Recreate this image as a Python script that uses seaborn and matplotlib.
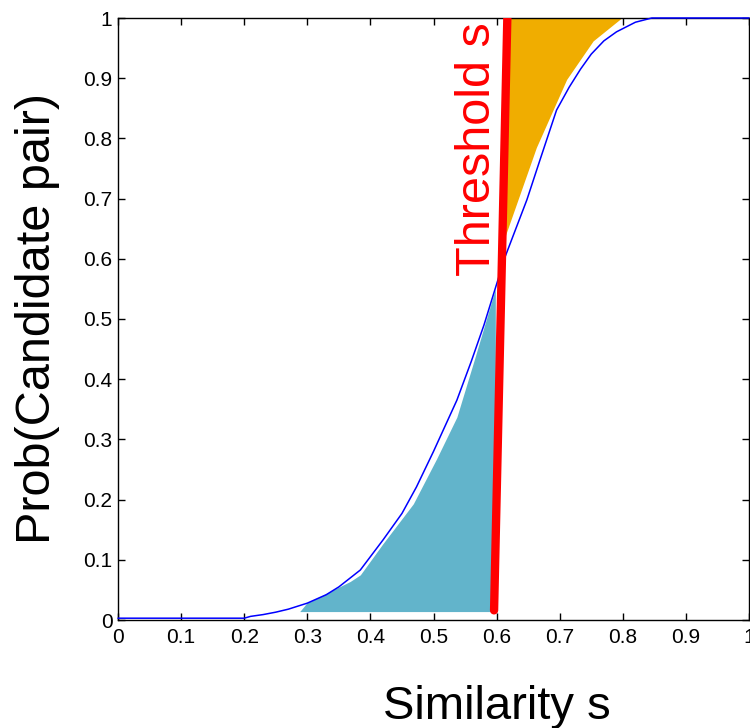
import matplotlib
matplotlib.use("Agg")
import matplotlib.pyplot as plt
import seaborn as sns
import numpy as np
import pandas as pd

# S-curve: probability that a pair becomes a candidate
sim = [0, 0.1, 0.2, 0.21, 0.23, 0.25, 0.27, 0.3, 0.33, 0.35, 0.384, 0.42,
       0.45, 0.473, 0.5, 0.537, 0.56, 0.58, 0.613, 0.648, 0.669, 0.695, 0.715,
       0.733, 0.75, 0.77, 0.79, 0.82, 0.846, 1.0]
prob = [0.003, 0.003, 0.003, 0.006, 0.009, 0.013, 0.018, 0.028, 0.042, 0.055,
        0.083, 0.133, 0.177, 0.221, 0.28, 0.365, 0.43, 0.49, 0.602, 0.698,
        0.765, 0.847, 0.885, 0.915, 0.94, 0.962, 0.977, 0.993, 1.0, 1.0]

# false negatives region (below threshold)
fn_x = [0.288, 0.299, 0.368, 0.384, 0.42, 0.468, 0.505, 0.537, 0.566, 0.598]
fn_top = [0.014, 0.028, 0.064, 0.075, 0.127, 0.193, 0.268, 0.337, 0.437, 0.55]
fn_bottom = 0.014

# false positives region (above threshold)
fp_y = [0.63, 0.785, 0.898, 0.962, 1.0]
fp_right = [0.611, 0.663, 0.711, 0.753, 0.798]

# threshold line
thr_x = [0.596, 0.617]
thr_y = [0.016, 1.0]

ticks = [0, 0.1, 0.2, 0.3, 0.4, 0.5, 0.6, 0.7, 0.8, 0.9, 1.0]
tick_labels = ['0', '0.1', '0.2', '0.3', '0.4', '0.5', '0.6', '0.7', '0.8', '0.9', '1']

sns.set_style("ticks")
plt.rcParams['font.family'] = ['Liberation Sans', 'DejaVu Sans']
plt.rcParams['text.color'] = 'black'
plt.rcParams['axes.labelcolor'] = 'black'
plt.rcParams['xtick.color'] = 'black'
plt.rcParams['ytick.color'] = 'black'

fig = plt.figure(figsize=(7.5, 7.28), dpi=100)
ax = fig.add_axes([118 / 750, 1 - 620 / 728, 631 / 750, 602 / 728])

ax.fill_between(fn_x, fn_bottom, fn_top, color='#62b4cb', linewidth=0, zorder=1)
fp_left = np.interp(fp_y, thr_y, thr_x)
ax.fill_betweenx(fp_y, fp_left, fp_right, color='#f0ad00', linewidth=0, zorder=1)

df = pd.DataFrame({'s': sim, 'p': prob})
sns.lineplot(data=df, x='s', y='p', ax=ax, color='#0000ff', linewidth=1.1,
             zorder=3, clip_on=False, sort=False)

ax.plot(thr_x, thr_y, color='#ff0000', linewidth=6, solid_capstyle='round', zorder=4)

ax.text(0.5895, 0.783, 'Threshold s', color='#ff0000', fontsize=35,
        rotation=90, rotation_mode='anchor', ha='center', va='baseline')

ax.set_xlim(0, 1)
ax.set_ylim(0, 1)
ax.set_xticks(ticks)
ax.set_xticklabels(tick_labels)
ax.set_yticks(ticks)
ax.set_yticklabels(tick_labels)
ax.tick_params(direction='in', top=True, right=True, length=5, width=1,
               labelsize=15, color='black')
ax.tick_params(axis='x', pad=6)
ax.tick_params(axis='y', pad=4)
for sp in ax.spines.values():
    sp.set_linewidth(1)
    sp.set_color('black')

ax.set_xlabel('Similarity s', fontsize=34)
ax.xaxis.set_label_coords(0.6, -0.108)
ax.set_ylabel('Prob(Candidate pair)', fontsize=35)
ax.yaxis.set_label_coords(-0.092, 0.5)

fig.savefig('out.png', dpi=100)
